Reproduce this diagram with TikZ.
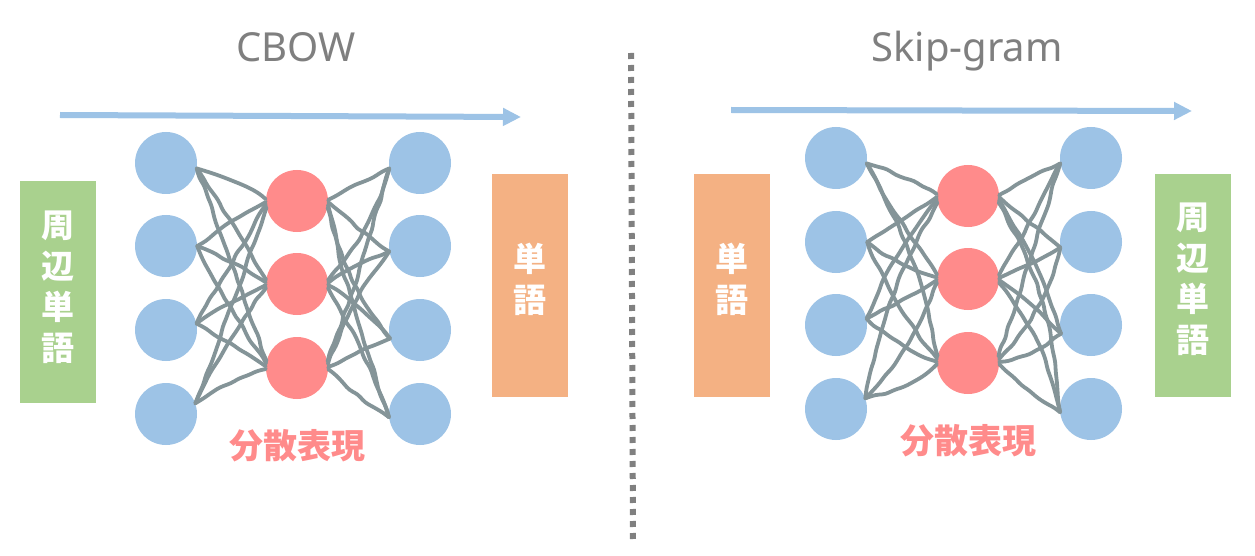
\documentclass[tikz,border=0pt]{standalone}
\usepackage{fontspec}
\setmainfont{Noto Sans}
\newfontfamily\jpfont{Noto Sans CJK JP}
\usetikzlibrary{arrows.meta,decorations.pathmorphing}
\definecolor{nblue}{RGB}{157,195,230}
\definecolor{nred}{RGB}{255,139,139}
\definecolor{wgray}{RGB}{132,148,152}
\definecolor{bgreen}{RGB}{169,209,142}
\definecolor{borange}{RGB}{244,177,131}
\definecolor{tgray}{RGB}{127,127,127}
\definecolor{sepgray}{RGB}{128,128,128}
\begin{document}
\begin{tikzpicture}[x=1pt,y=-1pt,
  neuron/.style={circle, minimum size=62pt, inner sep=0pt, fill=nblue},
  hidden/.style={circle, minimum size=62pt, inner sep=0pt, fill=nred},
  wire/.style={draw=wgray, line width=3.8pt, line cap=round, line join=round,
    decorate, decoration={random steps, segment length=10pt, amplitude=1.3pt}, rounded corners=4pt},
  flow/.style={draw=nblue, line width=6pt, -{Triangle[length=18pt,width=17pt]}},
  wordbox/.style={rectangle, inner sep=0pt, minimum width=76pt},
  boxtext/.style={text=white, align=center, inner sep=0pt, font=\jpfont\bfseries\fontsize{33}{41}\selectfont},
  title/.style={text=tgray, anchor=base, inner sep=0pt, font=\fontsize{40}{48}\selectfont},
  reprlabel/.style={text=nred, inner sep=0pt, font=\jpfont\bfseries\fontsize{34}{40}\selectfont}]
\useasboundingbox (0,0) rectangle (1255,556);
\fill[white] (0,0) rectangle (1255,556);
\pgfmathsetseed{11}

% titles
\node[title] (t1) at (296,62) {CBOW};
\node[title] (t2) at (967,62) {Skip-gram};

% separator
\coordinate (sepA) at (631,53);
\coordinate (sepB) at (633,541);
\draw[sepgray, line width=6pt, dash pattern=on 6pt off 6pt] (sepA) -- (sepB);

% flow arrows
\coordinate (fa1) at (60,115);
\coordinate (fb1) at (521,117);
\draw[flow] (fa1) -- (fb1);
\coordinate (fa2) at (731,110);
\coordinate (fb2) at (1192,111);
\draw[flow] (fa2) -- (fb2);

% boxes, left
\node[wordbox, fill=bgreen, minimum height=222pt] (ctxL) at (58,292) {};
\node[boxtext] (ctxLt) at (58,287) {周\\辺\\単\\語};
\node[wordbox, fill=borange, minimum height=223pt] (wrdL) at (530,285.5) {};
\node[boxtext] (wrdLt) at (530,279) {単\\語};
% boxes, right
\node[wordbox, fill=borange, minimum height=223pt] (wrdR) at (732,285.5) {};
\node[boxtext] (wrdRt) at (732,279) {単\\語};
\node[wordbox, fill=bgreen, minimum height=223pt] (ctxR) at (1193,285.5) {};
\node[boxtext] (ctxRt) at (1193,279) {周\\辺\\単\\語};

% CBOW network
\foreach \i/\y in {1/163,2/246,3/330,4/414}{
  \node[neuron] (cL\i) at (166,\y) {};
  \node[neuron] (cR\i) at (420,\y) {};
}
\foreach \j/\y in {1/201,2/284,3/368}{
  \node[hidden] (cM\j) at (297,\y) {};
}
% Skip-gram network
\foreach \i/\y in {1/158,2/242,3/325,4/409}{
  \node[neuron] (sL\i) at (836,\y) {};
  \node[neuron] (sR\i) at (1091,\y) {};
}
\foreach \j/\y in {1/196,2/279,3/363}{
  \node[hidden] (sM\j) at (968,\y) {};
}

% wires
\foreach \p in {c,s}{
  \foreach \i/\yl/\al/\ar in {1/0/-10/190,2/83/0/190,3/167/12/196,4/251/20/186}{
    \foreach \j/\ym in {1/38,2/121,3/205}{
      \pgfmathsetmacro{\am}{180-0.06*(\ym-\yl)}
      \pgfmathsetmacro{\an}{0.06*(\ym-\yl)}
      \pgfmathsetmacro{\ba}{rand*14}
      \pgfmathsetmacro{\bb}{rand*14}
      \draw[wire] (\p L\i.\al) to[bend left=\ba] (\p M\j.\am);
      \draw[wire] (\p M\j.\an) to[bend left=\bb] (\p R\i.\ar);
    }
  }
}

% labels
\node[reprlabel] (rep1) at (297,446) {分散表現};
\node[reprlabel] (rep2) at (968,441) {分散表現};
\end{tikzpicture}
\end{document}
